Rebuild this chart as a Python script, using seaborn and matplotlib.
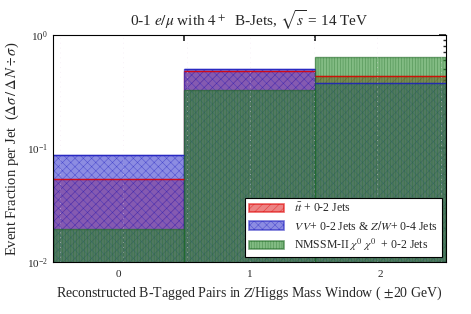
# Event fraction per jet, 0-1 lepton with 4+ b-jets
import numpy as np
import pandas as pd
import matplotlib
matplotlib.use("Agg")
import matplotlib.pyplot as plt
import seaborn as sns
from matplotlib.patches import Patch

# --------------------------------------------
# Data
# --------------------------------------------
n_pairs = [0, 1, 2]
ttbar = [0.054, 0.48, 0.435]
vv_zw = [0.088, 0.50, 0.375]
nmssm = [0.0195, 0.327, 0.64]

labels = [r"$t\bar{t}$ + 0-2 Jets",
          r"$V\,V$+ 0-2 Jets & $Z/W$+ 0-4 Jets",
          r"NMSSM-II $\chi^0\ \chi^0$  + 0-2 Jets"]

# --------------------------------------------
# Settings
# --------------------------------------------
sns.set_theme(style="white")
plt.rcParams['font.family'] = ['Liberation Serif', 'DejaVu Serif']
plt.rcParams['mathtext.fontset'] = 'stix'
plt.rcParams['hatch.linewidth'] = 0.35

fig = plt.figure(figsize=(4.71, 3.14), dpi=100)
ax = fig.add_axes([0.1125, 0.166, 0.835, 0.723])

styles = [
    (ttbar, "#e03030", "#e00000", "////"),
    (vv_zw, "#4040d0", "#2020c0", "xxxx"),
    (nmssm, "#2f8f30", "#1f6a25", "||||||"),
]

frames = [pd.DataFrame({"bin": n_pairs, "frac": v}) for v, _, _, _ in styles]

for df, (vals, face, edge, hatch) in zip(frames, styles):
    sns.barplot(data=df, x="bin", y="frac", width=1.0, color=face,
                alpha=0.6, edgecolor=edge, linewidth=1.0, hatch=hatch,
                saturation=1, ax=ax)

# bright top edges of the background samples
centres = np.array(n_pairs)
for vals, face, edge, hatch in styles[:2]:
    ax.hlines(vals, centres - 0.5, centres + 0.5, colors=edge, linewidth=1.0,
              alpha=0.85, zorder=3)

ax.set_yscale("log")
ax.set_ylim(1e-2, 1e0)
ax.set_xlim(-0.5, 2.5)

# ticks at bin edges, labels at bin centres
ax.set_xticks([0.5, 1.5])
ax.set_xticklabels([])
ax.set_xticks([0, 1, 2], minor=True)
ax.set_xticklabels(["0", "1", "2"], minor=True)
ax.tick_params(axis="x", which="minor", length=0, labelsize=8, pad=6)
ax.tick_params(axis="both", which="both", direction="in", top=True, right=True)
ax.tick_params(axis="y", which="major", length=5, labelsize=8)
ax.tick_params(axis="y", which="minor", length=2.5)
ax.tick_params(axis="x", which="major", length=4)

# dotted vertical guides
for xg in np.arange(-0.45, 2.5, 0.485):
    ax.axvline(xg, color="#f0e0f0", linestyle=(0, (1, 4)), linewidth=0.7, alpha=0.45)

for sp in ax.spines.values():
    sp.set_color("black")
    sp.set_linewidth(0.8)
    sp.set_zorder(5)

ax.set_title(r"0-1 $e/\mu$ with $4^+$  B-Jets, $\sqrt{s}$ = 14 TeV", fontsize=11)
ax.set_xlabel(r"Reconstructed B-Tagged Pairs in $Z$/Higgs Mass Window ( $\pm$20 GeV)",
              fontsize=10)
ax.set_ylabel(r"Event Fraction per Jet  ($\Delta\sigma\,/\,\Delta\,N \div \sigma$)",
              fontsize=10.5)

handles = [Patch(facecolor=f, edgecolor=e, alpha=0.6, hatch=h, linewidth=1.2)
           for _, f, e, h in styles]
leg = ax.legend(handles, labels, loc="lower right", fontsize=8.5,
                frameon=True, fancybox=False, edgecolor="black",
                borderaxespad=0.4, borderpad=0.35, handlelength=3.0,
                labelspacing=0.35)
leg.get_frame().set_facecolor("white")
leg.get_frame().set_alpha(1)
leg.get_frame().set_linewidth(0.8)
leg.set_zorder(10)

plt.savefig("out.png", dpi=100)
